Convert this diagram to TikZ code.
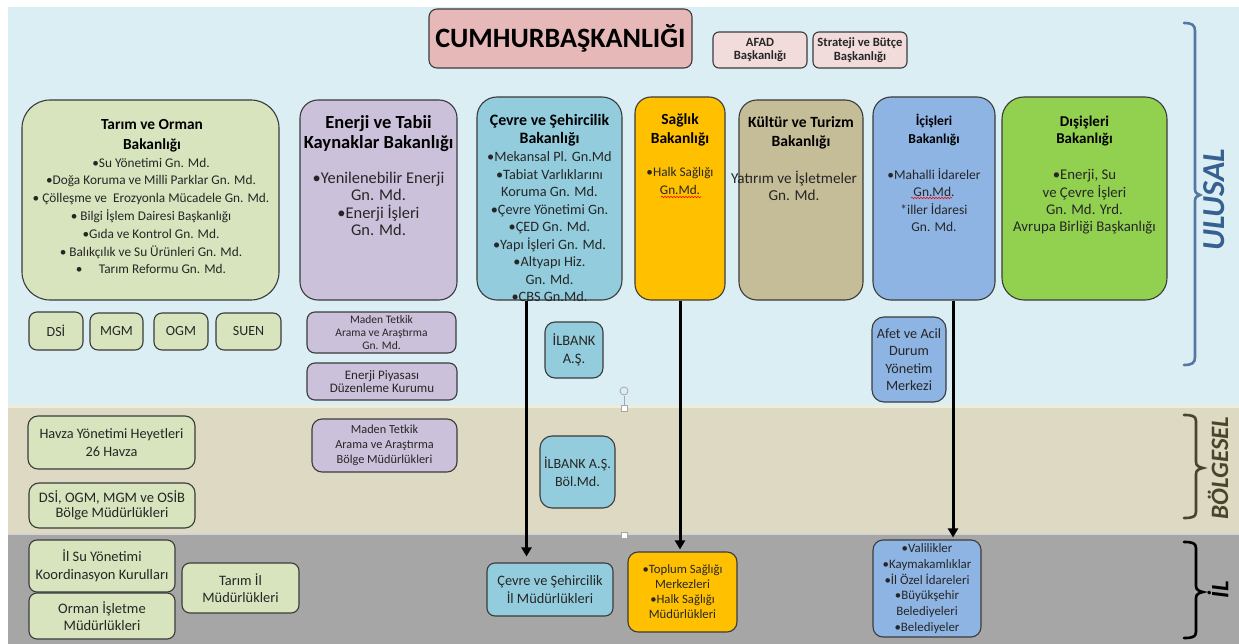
\documentclass[tikz,border=0pt]{standalone}
\usepackage{fontspec}
\setmainfont{Carlito}
\usetikzlibrary{arrows.meta,decorations.pathmorphing}
\definecolor{ulbg}{HTML}{DBEEF4}
\definecolor{bgbg}{HTML}{DDD9C3}
\definecolor{ilbg}{HTML}{A6A6A6}
\definecolor{sepa}{HTML}{EEECDA}
\definecolor{sepb}{HTML}{D4D4D4}
\definecolor{cumc}{HTML}{E6B9B8}
\definecolor{afadc}{HTML}{F2DCDB}
\definecolor{tarc}{HTML}{D7E4BD}
\definecolor{enc}{HTML}{CCC1DA}
\definecolor{cevc}{HTML}{93CDDD}
\definecolor{sagc}{HTML}{FFC000}
\definecolor{kulc}{HTML}{C4BD97}
\definecolor{icc}{HTML}{8EB4E3}
\definecolor{disc}{HTML}{92D050}
\definecolor{boxline}{HTML}{3B3B3B}
\definecolor{txt}{HTML}{262626}
\definecolor{ulc}{HTML}{376092}
\definecolor{bolc}{HTML}{4A452A}
\begin{document}
\begin{tikzpicture}[x=1pt,y=-1pt,
  spanbox/.style args={#1/#2/#3/#4}{minimum width={#3-#1},minimum height={#4-#2},at={({(#1+#3)/2},{(#2+#4)/2})}},
  rbox/.style={draw=boxline,line width=1.1pt,rounded corners=8pt,inner sep=0pt,align=center,text=txt},
  bigbox/.style={rbox,rounded corners=20pt},
  txtnode/.style={inner sep=0pt,align=center,text=txt},
  ttl/.style={txtnode,text=black},
  arr/.style={line width=3pt,-{Triangle[length=9pt,width=10pt]},shorten >=2pt},
  brace/.style={line width=2.6pt,line cap=round},
  side/.style={rotate=90,inner sep=0pt}]
\useasboundingbox (0,0) rectangle (1239,644);
% bands
\fill[ulbg] (8,7) rectangle (1239,405);
\fill[sepa] (8,405) rectangle (1239,408);
\fill[bgbg] (8,408) rectangle (1239,533);
\fill[sepb] (8,533) rectangle (1239,535);
\fill[ilbg] (8,535) rectangle (1239,644);

% top
\node[rbox,fill=cumc,rounded corners=8pt,spanbox=429/9/692/68,font=\fontsize{28}{30}\selectfont\bfseries,text=black] (cumhur) {CUMHURBAŞKANLIĞI};
\node[rbox,fill=afadc,rounded corners=6pt,spanbox=713/32/807/68,font=\fontsize{12.6}{13.3}\selectfont\bfseries] (afad) {AFAD\\Başkanlığı};
\node[rbox,fill=afadc,rounded corners=6pt,spanbox=813/32/907/68,font=\fontsize{12.6}{13.3}\selectfont\bfseries] (sbb) {Strateji ve Bütçe\\Başkanlığı};

% ministries
\node[bigbox,fill=tarc,rounded corners=28pt,spanbox=22/100/279/300] (tarim) {};
\node[ttl,font=\fontsize{15.4}{20}\selectfont\bfseries] (tarimT) at (152,136) {Tarım ve Orman\\Bakanlığı};
\node[txtnode,font=\fontsize{13.3}{17.8}\selectfont] (tarimB) at (151,216) {•Su Yönetimi Gn. Md.\\•Doğa Koruma ve Milli Parklar Gn. Md.\\• Çölleşme ve\ \ Erozyonla Mücadele Gn. Md.\\• Bilgi İşlem Dairesi Başkanlığı\\•Gıda ve Kontrol Gn. Md.\\• Balıkçılık ve Su Ürünleri Gn. Md.\\•\quad\  Tarım Reformu Gn. Md.};

\node[bigbox,fill=enc,rounded corners=18pt,spanbox=300/100/457/300] (enerji) {};
\node[ttl,font=\fontsize{18.5}{20}\selectfont\bfseries] (enerjiT) at (378.5,134) {Enerji ve Tabii\\Kaynaklar Bakanlığı};
\node[txtnode,font=\fontsize{16.4}{17.3}\selectfont] (enerjiB) at (378.5,204) {•Yenilenebilir Enerji\\Gn. Md.\\•Enerji İşleri\\Gn. Md.};

\node[bigbox,fill=cevc,spanbox=477/97/622/300] (cevre) {};
\node[ttl,font=\fontsize{15.9}{18.3}\selectfont\bfseries] (cevreT) at (549.5,130) {Çevre ve Şehircilik\\Bakanlığı};
\node[txtnode,font=\fontsize{14.3}{17.5}\selectfont] (cevreB) at (549.5,227) {•Mekansal Pl. Gn.Md\\•Tabiat Varlıklarını\\Koruma Gn. Md.\\•Çevre Yönetimi Gn.\\•ÇED Gn. Md.\\•Yapı İşleri Gn. Md.\\•Altyapı Hiz.\\Gn. Md.\\•CBS Gn.Md.};

\node[bigbox,fill=sagc,rounded corners=16pt,spanbox=635/97/725/300] (saglik) {};
\node[ttl,font=\fontsize{15.5}{18.3}\selectfont\bfseries] (saglikT) at (680,130) {Sağlık\\Bakanlığı};
\node[txtnode,font=\fontsize{13.2}{17.3}\selectfont] (saglikB) at (680,181) {•Halk Sağlığı\\Gn.Md.};

\node[bigbox,fill=kulc,rounded corners=18pt,spanbox=739/100/863/300] (kultur) {};
\node[ttl,font=\fontsize{15.6}{19.4}\selectfont\bfseries] (kulturT) at (801,133) {Kültür ve Turizm\\Bakanlığı};
\node[txtnode,font=\fontsize{15.2}{17.3}\selectfont] (kulturB) at (794,186) {Yatırım ve İşletmeler\\Gn. Md.};

\node[bigbox,fill=icc,rounded corners=18pt,spanbox=873/97/995/300] (icisleri) {};
\node[ttl,font=\fontsize{13.6}{18.3}\selectfont\bfseries] (icisleriT) at (934,130) {İçişleri\\Bakanlığı};
\node[txtnode,font=\fontsize{13.5}{17.2}\selectfont] (icisleriB) at (934,200) {•Mahalli İdareler\\Gn.Md.\\*iller İdaresi\\Gn. Md.};

\node[bigbox,fill=disc,rounded corners=22pt,spanbox=1002/97/1167/300] (disisleri) {};
\node[ttl,font=\fontsize{15}{17.6}\selectfont\bfseries] (disisleriT) at (1084.5,131) {Dışişleri\\Bakanlığı};
\node[txtnode,font=\fontsize{14.8}{17.4}\selectfont] (disisleriB) at (1084.5,202) {•Enerji, Su\\ve Çevre İşleri\\Gn. Md. Yrd.\\Avrupa Birliği Başkanlığı};

% spell-check underlines
\draw[red,line width=0.6pt,decorate,decoration={snake,amplitude=0.7pt,segment length=3pt}] (661,197) -- (701,197);
\draw[red,line width=0.6pt,decorate,decoration={snake,amplitude=0.7pt,segment length=3pt}] (911,198) -- (952,198);

% ulusal small boxes
\node[rbox,fill=tarc,spanbox=29/312/83/350,font=\fontsize{14}{15}\selectfont] (dsi) {DSİ};
\node[rbox,fill=tarc,spanbox=90/313/143/350,font=\fontsize{14}{15}\selectfont] (mgm) {MGM};
\node[rbox,fill=tarc,spanbox=154/313/208/350,font=\fontsize{14}{15}\selectfont] (ogm) {OGM};
\node[rbox,fill=tarc,spanbox=216/313/281/350,font=\fontsize{14}{15}\selectfont] (suen) {SUEN};
\node[rbox,fill=enc,spanbox=307/312/456/353,font=\fontsize{11.5}{13.3}\selectfont] (maden) {Maden Tetkik\\Arama ve Araştırma\\Gn. Md.};
\node[rbox,fill=enc,spanbox=307/363/457/400,font=\fontsize{13}{13.5}\selectfont] (epdk) {Enerji Piyasası\\Düzenleme Kurumu};
\node[rbox,fill=cevc,rounded corners=10pt,spanbox=545/322/603/378,font=\fontsize{14.5}{18}\selectfont] (ilbank) {İLBANK\\A.Ş.};
\node[rbox,fill=icc,rounded corners=12pt,spanbox=872/317/946/402,font=\fontsize{14.2}{17.3}\selectfont] (afet) {Afet ve Acil\\Durum\\Yönetim\\Merkezi};

% bolgesel
\node[rbox,fill=tarc,rounded corners=10pt,spanbox=28/416/195/469,font=\fontsize{14.3}{17.5}\selectfont] (havza) {Havza Yönetimi Heyetleri\\26 Havza};
\node[rbox,fill=tarc,rounded corners=10pt,spanbox=29/483/195/528,font=\fontsize{14.5}{15.5}\selectfont] (dsib) {DSİ, OGM, MGM ve OSİB\\Bölge Müdürlükleri};
\node[rbox,fill=enc,rounded corners=10pt,spanbox=312/419/457/472,font=\fontsize{12.3}{15}\selectfont] (madenb) {Maden Tetkik\\Arama ve Araştırma\\Bölge Müdürlükleri};
\node[rbox,fill=cevc,rounded corners=12pt,spanbox=540/436/615/508,font=\fontsize{14.1}{18.4}\selectfont] (ilbankb) {İLBANK A.Ş.\\Böl.Md.};

% il
\node[rbox,fill=tarc,spanbox=29/540/175/592,font=\fontsize{14.5}{18.3}\selectfont] (ilsu) {İl Su Yönetimi\\Koordinasyon Kurulları};
\node[rbox,fill=tarc,spanbox=29/593/175/639,font=\fontsize{14.5}{17.7}\selectfont] (orman) {Orman İşletme\\Müdürlükleri};
\node[rbox,fill=tarc,spanbox=182/563/299/613,font=\fontsize{14.4}{16.7}\selectfont] (tarimil) {Tarım İl\\Müdürlükleri};
\node[rbox,fill=cevc,spanbox=487/563/613/616,font=\fontsize{14.4}{18.3}\selectfont] (cevreil) {Çevre ve Şehircilik\\İl Müdürlükleri};
\node[rbox,fill=sagc,rounded corners=10pt,spanbox=628/552/737/632,font=\fontsize{12.7}{15}\selectfont] (saglikil) {•Toplum Sağlığı\\Merkezleri\\•Halk Sağlığı\\Müdürlükleri};
\node[rbox,fill=icc,rounded corners=10pt,spanbox=873/540/981/637,font=\fontsize{12.9}{15.7}\selectfont] (icil) {•Valilikler\\•Kaymakamlıklar\\•İl Özel İdareleri\\•Büyükşehir\\Belediyeleri\\•Belediyeler};

% arrows
\coordinate (ca) at ([xshift=-23pt]cevre.south);
\coordinate (ia) at ([xshift=19pt]icisleri.south);
\draw[arr,shorten >=6pt] (ca) -- (ca |- cevreil.north);
\draw[arr] (saglik.south) -- (saglik.south |- saglikil.north);
\draw[arr] (ia) -- (ia |- icil.north);

% selection handle artefacts
\draw[gray!70,line width=0.6pt] (624,396) -- (624,405);
\draw[gray!70,line width=0.8pt] (624,391) circle (4pt);
\draw[gray!70,fill=white,line width=0.5pt] (621,405) rectangle (627,411);
\draw[gray!70,fill=white,line width=0.5pt] (621,532) rectangle (627,538);

% side braces
\draw[brace,draw=ulc!85!white] (1184,23) .. controls (1192,23) and (1195,25) .. (1195,31) -- (1195,189) .. controls (1195,193) and (1197,194) .. (1200,195) .. controls (1197,196) and (1195,197) .. (1195,201) -- (1195,357) .. controls (1195,363) and (1192,365) .. (1184,365);
\node[side,font=\fontsize{32}{32}\selectfont\bfseries\itshape,text=ulc] (ulusal) at (1214,200) {ULUSAL};
\draw[brace,draw=bolc] (1184,415) .. controls (1192,415) and (1196,416) .. (1196,421) -- (1196,462) .. controls (1196,466) and (1199,467) .. (1203,468) .. controls (1199,469) and (1196,470) .. (1196,474) -- (1196,512) .. controls (1196,517) and (1192,518) .. (1184,518);
\node[side,font=\fontsize{25}{25}\selectfont\bfseries\itshape,text=bolc] (bolgesel) at (1218,468) {BÖLGESEL};
\draw[brace,draw=black] (1184,542) .. controls (1192,542) and (1196,543) .. (1196,548) -- (1196,586) .. controls (1196,590) and (1199,591) .. (1203,592) .. controls (1199,593) and (1196,594) .. (1196,598) -- (1196,632) .. controls (1196,637) and (1192,638) .. (1184,638);
\node[side,font=\fontsize{25}{25}\selectfont\bfseries\itshape,text=black] (il) at (1218,590) {İL};
\end{tikzpicture}
\end{document}
